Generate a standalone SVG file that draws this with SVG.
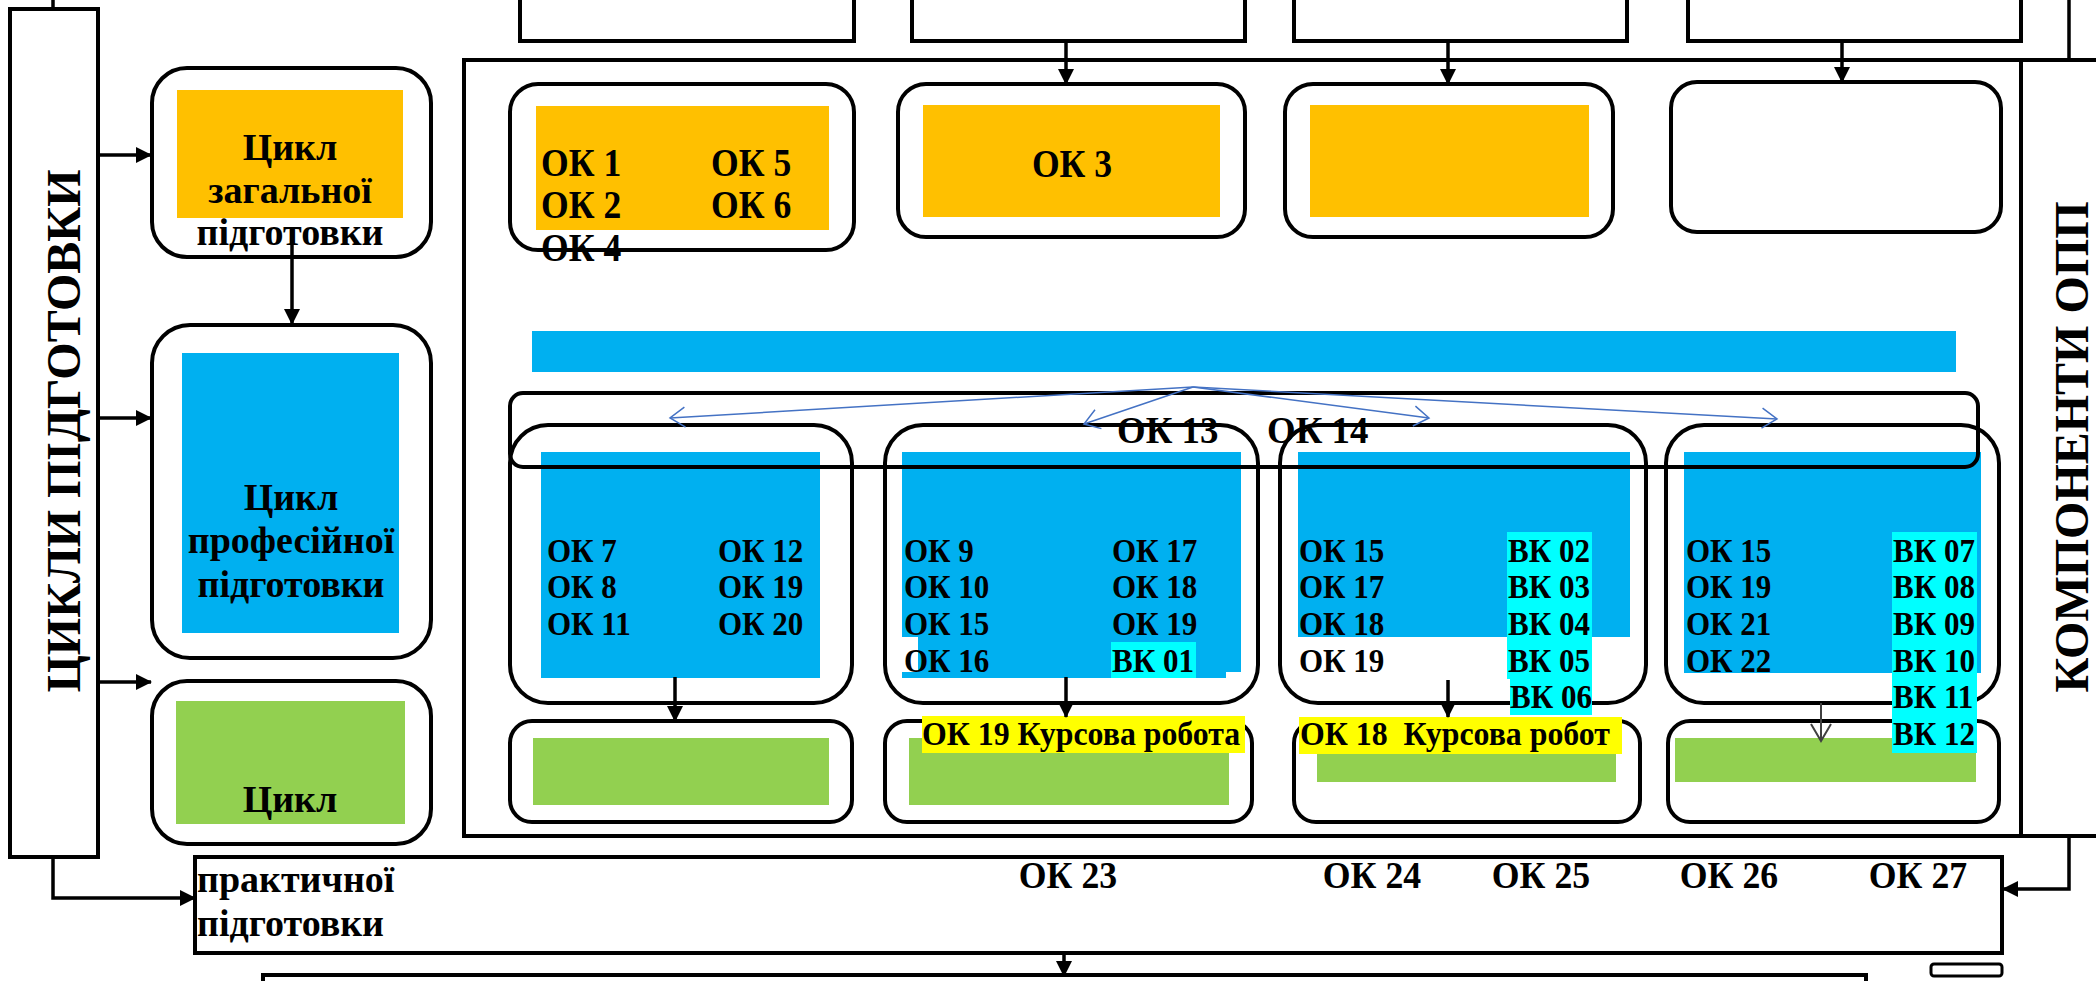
<svg xmlns="http://www.w3.org/2000/svg" width="2096" height="981" viewBox="0 0 2096 981">
<style>
text { font-family: "Liberation Serif", "Times New Roman", serif; font-weight: bold; fill: #000; }
.f48 { font-size: 48px; }
.f40 { font-size: 40px; }
.f38 { font-size: 38px; }
.f33 { font-size: 33px; }
.f32 { font-size: 32px; }
.mid { text-anchor: middle; }
.sl { transform-box: fill-box; transform-origin: 0% 50%; }
.sc { transform-box: fill-box; transform-origin: 50% 50%; }
.k89 { transform: scaleX(0.89); }
.k94 { transform: scaleX(0.94); }
.k97 { transform: scaleX(0.97); }
.box { fill: none; stroke: #000; stroke-width: 4; }
.ln { fill: none; stroke: #000; stroke-width: 3.5; }
.bl { fill: none; stroke: #4472C4; stroke-width: 1.5; }
.gl { fill: none; stroke: #404040; stroke-width: 2; }
.yel { fill: #FFC000; }
.blu { fill: #00B0F0; }
.grn { fill: #92D050; }
.cyn { fill: #00FFFF; }
.hl { fill: #FFFF00; }
</style>
<defs>
<marker id="ah" markerUnits="userSpaceOnUse" markerWidth="16" markerHeight="16" refX="15" refY="8" orient="auto" viewBox="0 0 16 16"><path d="M0,0 L16,8 L0,16 z" fill="#000"/></marker>
<marker id="ob" markerUnits="userSpaceOnUse" markerWidth="18" markerHeight="22" refX="16" refY="11" orient="auto" viewBox="0 0 18 22"><path d="M1,1 L16,11 L1,21" fill="none" stroke="#4472C4" stroke-width="1.5"/></marker>
<marker id="og" markerUnits="userSpaceOnUse" markerWidth="20" markerHeight="22" refX="18" refY="11" orient="auto" viewBox="0 0 20 22"><path d="M1,1 L18,11 L1,21" fill="none" stroke="#404040" stroke-width="2"/></marker>
</defs>
<rect width="2096" height="981" fill="#fff"/>

<!-- frames -->
<g id="main-frame"><rect class="box" x="464" y="60" width="1557" height="776"/></g>
<g id="komponenty"><rect class="box" x="2021" y="60" width="95" height="776"/>
<text class="f48 mid" transform="translate(2088,447) rotate(-90)" textLength="491">КОМПОНЕНТИ ОПП</text></g>
<g id="cycles"><rect class="box" x="10" y="9" width="88" height="848"/>
<text class="f48 mid" transform="translate(80,431) rotate(-90)" textLength="523">ЦИКЛИ ПІДГОТОВКИ</text></g>

<!-- top boxes (cut) -->
<g id="top-a"><rect class="box" x="520" y="-20" width="334" height="61"/></g>
<g id="top-b"><rect class="box" x="912" y="-20" width="333" height="61"/></g>
<g id="top-c"><rect class="box" x="1294" y="-20" width="333" height="61"/></g>
<g id="top-d"><rect class="box" x="1688" y="-20" width="333" height="61"/></g>

<!-- left column -->
<g id="gen-cycle"><rect class="yel" x="177" y="90" width="226" height="128"/>
<rect class="box" x="152" y="68" width="279" height="189" rx="35"/>
<text class="f38 mid" x="290" y="160">Цикл</text>
<text class="f38 mid" x="290" y="203">загальної</text>
<text class="f38 mid" x="290" y="245">підготовки</text></g>
<g id="prof-cycle"><rect class="blu" x="182" y="353" width="217" height="280"/>
<rect class="box" x="152" y="325" width="279" height="333" rx="38"/>
<text class="f38 mid" x="291" y="510">Цикл</text>
<text class="f38 mid" x="291" y="553">професійної</text>
<text class="f38 mid" x="291" y="597">підготовки</text></g>
<g id="prac-cycle"><rect class="grn" x="176" y="701" width="229" height="123"/>
<rect class="box" x="152" y="681" width="279" height="163" rx="35"/>
<text class="f38 mid" x="290" y="812">Цикл</text></g>

<!-- top row OK -->
<g id="gen-1"><rect class="yel" x="536" y="106" width="293" height="124"/>
<rect class="box" x="510" y="84" width="344" height="166" rx="28"/>
<text class="f40 sl k89" x="541" y="176">ОК 1</text><text class="f40 sl k89" x="711" y="176">ОК 5</text>
<text class="f40 sl k89" x="541" y="218">ОК 2</text><text class="f40 sl k89" x="711" y="218">ОК 6</text>
<text class="f40 sl k89" x="541" y="261">ОК 4</text></g>
<g id="gen-2"><rect class="yel" x="923" y="105" width="297" height="112"/>
<rect class="box" x="898" y="84" width="347" height="153" rx="28"/>
<text class="f40 mid sc k89" x="1072" y="177">ОК 3</text></g>
<g id="gen-3"><rect class="yel" x="1310" y="105" width="279" height="112"/>
<rect class="box" x="1285" y="84" width="328" height="153" rx="28"/></g>
<g id="gen-4"><rect class="box" x="1671" y="82" width="330" height="150" rx="26"/></g>

<g id="prof-bar"><rect class="blu" x="532" y="331" width="1424" height="41"/></g>

<!-- columns -->
<g id="col1"><rect class="blu" x="541" y="452" width="279" height="226"/>
<rect class="box" x="510" y="425" width="342" height="278" rx="38"/>
<text class="f33 sl k94" x="547" y="562">ОК 7</text><text class="f33 sl k94" x="718" y="562">ОК 12</text>
<text class="f33 sl k94" x="547" y="598">ОК 8</text><text class="f33 sl k94" x="718" y="598">ОК 19</text>
<text class="f33 sl k94" x="547" y="635">ОК 11</text><text class="f33 sl k94" x="718" y="635">ОК 20</text></g>
<g id="col2"><rect class="blu" x="902" y="452" width="339" height="220"/>
<rect fill="#fff" x="902" y="637" width="16" height="35"/>
<rect class="blu" x="902" y="672" width="324" height="6"/>
<rect class="cyn" x="1111" y="642" width="85" height="36"/>
<rect class="box" x="885" y="425" width="373" height="278" rx="38"/>
<text class="f33 sl k94" x="904" y="562">ОК 9</text><text class="f33 sl k94" x="1112" y="562">ОК 17</text>
<text class="f33 sl k94" x="904" y="598">ОК 10</text><text class="f33 sl k94" x="1112" y="598">ОК 18</text>
<text class="f33 sl k94" x="904" y="635">ОК 15</text><text class="f33 sl k94" x="1112" y="635">ОК 19</text>
<text class="f33 sl k94" x="904" y="672">ОК 16</text><text class="f33 sl k94" x="1112" y="672">ВК 01</text></g>
<g id="col3"><rect class="blu" x="1298" y="452" width="332" height="185"/>
<rect class="box" x="1280" y="425" width="366" height="278" rx="38"/>
<rect class="cyn" x="1507" y="532" width="85" height="147"/>
<rect class="cyn" x="1510" y="679" width="82" height="36"/>
<text class="f33 sl k94" x="1299" y="562">ОК 15</text><text class="f33 sl k94" x="1508" y="562">ВК 02</text>
<text class="f33 sl k94" x="1299" y="598">ОК 17</text><text class="f33 sl k94" x="1508" y="598">ВК 03</text>
<text class="f33 sl k94" x="1299" y="635">ОК 18</text><text class="f33 sl k94" x="1508" y="635">ВК 04</text>
<text class="f33 sl k94" x="1299" y="672">ОК 19</text><text class="f33 sl k94" x="1508" y="672">ВК 05</text>
<text class="f33 sl k94" x="1510" y="708">ВК 06</text></g>
<g id="col4"><rect class="blu" x="1684" y="452" width="297" height="221"/>
<rect class="box" x="1666" y="425" width="333" height="278" rx="38"/></g>

<g id="ok13-14"><rect class="box" x="510" y="393" width="1468" height="74" rx="13"/>
<text class="f38 sl k97" x="1117" y="443">ОК 13</text><text class="f38 sl k97" x="1267" y="443">ОК 14</text></g>

<!-- bottom row -->
<g id="bot1"><rect class="grn" x="533" y="738" width="296" height="67"/>
<rect class="box" x="510" y="721" width="342" height="101" rx="22"/></g>
<g id="bot2"><rect class="grn" x="909" y="738" width="320" height="67"/>
<rect class="box" x="885" y="721" width="367" height="101" rx="22"/>
<rect class="hl" x="922" y="716" width="323" height="37"/>
<text class="f33 sl" x="922" y="745" style="transform: scaleX(0.965)">ОК 19 Курсова робота</text></g>
<g id="bot3"><rect class="grn" x="1317" y="754" width="299" height="28"/>
<rect class="box" x="1294" y="721" width="346" height="101" rx="22"/>
<rect class="hl" x="1299" y="717" width="323" height="37"/>
<text class="f33 sl" x="1300" y="745" xml:space="preserve" style="transform: scaleX(0.965)">ОК 18  Курсова робот</text></g>
<g id="bot4"><rect class="grn" x="1675" y="738" width="301" height="44"/>
<rect class="box" x="1668" y="721" width="331" height="101" rx="22"/></g>
<g id="col4-labels"><rect class="cyn" x="1892" y="532" width="85" height="221"/>
<text class="f33 sl k94" x="1686" y="562">ОК 15</text><text class="f33 sl k94" x="1893" y="562">ВК 07</text>
<text class="f33 sl k94" x="1686" y="598">ОК 19</text><text class="f33 sl k94" x="1893" y="598">ВК 08</text>
<text class="f33 sl k94" x="1686" y="635">ОК 21</text><text class="f33 sl k94" x="1893" y="635">ВК 09</text>
<text class="f33 sl k94" x="1686" y="672">ОК 22</text><text class="f33 sl k94" x="1893" y="672">ВК 10</text>
<text class="f33 sl k94" x="1893" y="708">ВК 11</text>
<text class="f33 sl k94" x="1893" y="745">ВК 12</text></g>

<!-- practice -->
<g id="practice"><rect class="box" x="195" y="857" width="1807" height="96"/>
<text class="f38" x="197" y="892">практичної</text>
<text class="f38" x="197" y="936">підготовки</text>
<text class="f38 mid sc k94" x="1068" y="888">ОК 23</text>
<text class="f38 mid sc k94" x="1372" y="888">ОК 24</text>
<text class="f38 mid sc k94" x="1541" y="888">ОК 25</text>
<text class="f38 mid sc k94" x="1729" y="888">ОК 26</text>
<text class="f38 mid sc k94" x="1918" y="888">ОК 27</text></g>
<g id="bottom-box"><rect class="box" x="263" y="975" width="1603" height="40"/></g>
<g id="small-box"><rect class="box" x="1931" y="964" width="71" height="12" rx="3" style="stroke-width:3"/></g>

<!-- connectors -->
<g id="connectors">
<line class="ln" x1="53" y1="0" x2="53" y2="9"/>
<line class="ln" x1="2069" y1="0" x2="2069" y2="60"/>
<line class="ln" x1="98" y1="155" x2="151" y2="155" marker-end="url(#ah)"/>
<line class="ln" x1="98" y1="418" x2="151" y2="418" marker-end="url(#ah)"/>
<line class="ln" x1="98" y1="682" x2="151" y2="682" marker-end="url(#ah)"/>
<polyline class="ln" points="53,857 53,898 195,898" marker-end="url(#ah)"/>
<line class="ln" x1="292" y1="230" x2="292" y2="324" marker-end="url(#ah)"/>
<line class="ln" x1="1066" y1="41" x2="1066" y2="84" marker-end="url(#ah)"/>
<line class="ln" x1="1448" y1="41" x2="1448" y2="84" marker-end="url(#ah)"/>
<line class="ln" x1="1842" y1="41" x2="1842" y2="82" marker-end="url(#ah)"/>
<line class="ln" x1="675" y1="677" x2="675" y2="721" marker-end="url(#ah)"/>
<line class="ln" x1="1066" y1="677" x2="1066" y2="717" marker-end="url(#ah)"/>
<line class="ln" x1="1448" y1="680" x2="1448" y2="717" marker-end="url(#ah)"/>
<line class="gl" x1="1821" y1="703" x2="1821" y2="741" marker-end="url(#og)"/>
<polyline class="ln" points="2069,836 2069,889 2003,889" marker-end="url(#ah)"/>
<line class="ln" x1="1064" y1="953" x2="1064" y2="976" marker-end="url(#ah)"/>
<line class="bl" x1="1193" y1="387" x2="670" y2="418" marker-end="url(#ob)"/>
<line class="bl" x1="1193" y1="387" x2="1084" y2="424" marker-end="url(#ob)"/>
<line class="bl" x1="1193" y1="387" x2="1429" y2="418" marker-end="url(#ob)"/>
<line class="bl" x1="1193" y1="387" x2="1777" y2="419" marker-end="url(#ob)"/>
</g>
</svg>
